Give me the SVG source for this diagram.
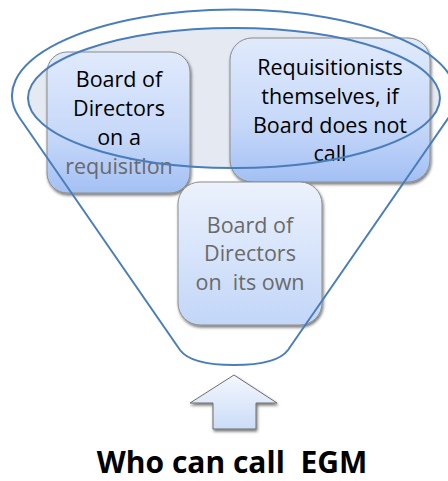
<svg xmlns="http://www.w3.org/2000/svg" width="448" height="481" viewBox="0 0 448 481">
<defs>
<linearGradient id="gBox" x1="0" y1="0" x2="0" y2="1">
<stop offset="0" stop-color="#e0eafc"/>
<stop offset="0.6" stop-color="#c6d8f9"/>
<stop offset="1" stop-color="#a3c0f4"/>
</linearGradient>
<linearGradient id="gBox3" x1="0" y1="0" x2="0" y2="1">
<stop offset="0" stop-color="#ecf2fd"/>
<stop offset="1" stop-color="#c2d6f8"/>
</linearGradient>
<linearGradient id="gArrow" x1="0" y1="0" x2="0" y2="1">
<stop offset="0" stop-color="#f4f7fe"/>
<stop offset="1" stop-color="#cbdcf8"/>
</linearGradient>
<filter id="sh" x="-20%" y="-20%" width="140%" height="140%">
<feDropShadow dx="1" dy="2" stdDeviation="1.8" flood-color="#000" flood-opacity="0.55"/>
</filter>
</defs>
<style>
.box{stroke:#8c8c8c;stroke-width:1;filter:url(#sh)}
.t{font-family:"Open Sans","Noto Sans","DejaVu Sans",sans-serif;font-size:21.5px;text-anchor:middle;fill:#000}
.g{fill:#6a6a6a}
.fl{fill:none;stroke:#4a7ebb;stroke-width:2}
</style>
<g id="funnel-fill">
<ellipse cx="234" cy="98" rx="206" ry="70" fill="#e5e9f1"/>
</g>
<g id="node-board-requisition">
<rect class="box" x="47" y="52" width="143" height="141" rx="20" fill="url(#gBox)"/>
<text class="t" x="119" y="87">Board of</text>
<text class="t" x="119" y="116">Directors</text>
<text class="t" x="119" y="145">on a</text>
<text class="t g" x="119" y="174">requisition</text>
</g>
<g id="node-requisitionists">
<rect class="box" x="230" y="38" width="200" height="144" rx="22" fill="url(#gBox)"/>
<text class="t" x="330" y="75">Requisitionists</text>
<text class="t" x="330" y="104">themselves, if</text>
<text class="t" x="330" y="133">Board does not</text>
<text class="t" x="330" y="161">call</text>
</g>
<g id="node-board-own">
<rect class="box" x="178" y="182" width="144" height="143" rx="22" fill="url(#gBox3)"/>
<text class="t g" x="250" y="233">Board of</text>
<text class="t g" x="250" y="261">Directors</text>
<text class="t g" x="250" y="290" xml:space="preserve">on  its own</text>
</g>
<g id="connectors">
<path class="fl" d="M19,117 A222,86 0 1 1 449,117 L288,350 C280,361 258,365 234,365 C210,365 188,361 180,350 Z"/>
<ellipse class="fl" cx="234" cy="98" rx="206" ry="70"/>
<polygon points="234,375 277,403 256,403 256,429 213,429 213,403 190,403" fill="url(#gArrow)" stroke="#6d6d6d" stroke-width="1" filter="url(#sh)"/>
</g>
<g id="title">
<text x="232" y="473" xml:space="preserve" style="font-family:'Open Sans','Noto Sans','DejaVu Sans',sans-serif;font-size:30px;font-weight:bold;text-anchor:middle;fill:#000">Who can call  EGM</text>
</g>
</svg>
